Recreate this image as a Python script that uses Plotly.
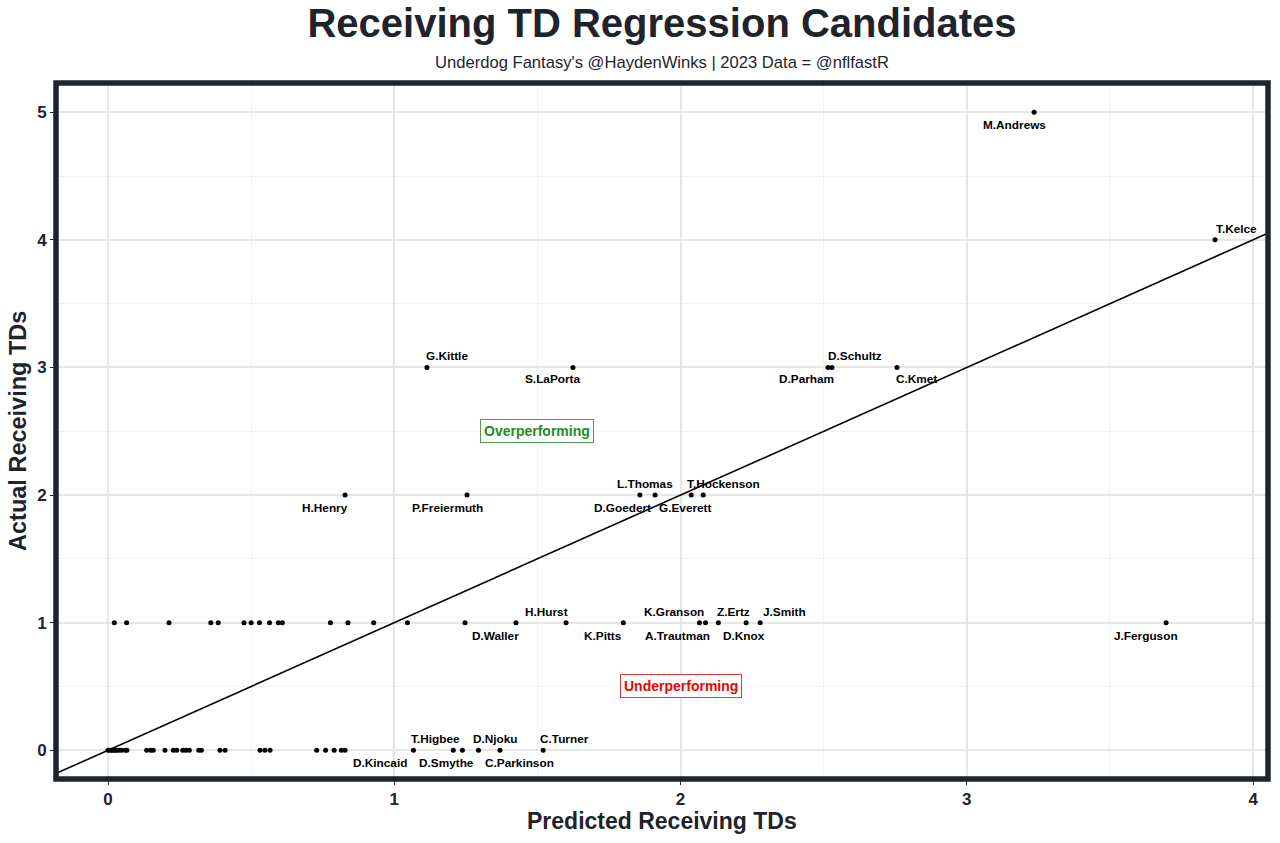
import plotly.graph_objects as go

# ---------------- data ----------------
labeled_names = [
    "M.Andrews", "T.Kelce", "G.Kittle", "S.LaPorta", "D.Schultz", "D.Parham", "C.Kmet",
    "H.Henry", "P.Freiermuth", "L.Thomas", "D.Goedert", "T.Hockenson", "G.Everett",
    "D.Waller", "H.Hurst", "K.Pitts", "K.Granson", "A.Trautman", "Z.Ertz", "D.Knox",
    "J.Smith", "J.Ferguson",
    "D.Kincaid", "T.Higbee", "D.Smythe", "D.Njoku", "C.Parkinson", "C.Turner",
]
labeled_pred = [
    3.235, 3.867, 1.114, 1.624, 2.529, 2.515, 2.756,
    0.828, 1.254, 1.858, 1.911, 2.079, 2.037,
    1.425, 1.600, 1.800, 2.066, 2.087, 2.132, 2.229,
    2.278, 3.696,
    0.828, 1.067, 1.206, 1.294, 1.369, 1.520,
]
labeled_actual = [
    5, 4, 3, 3, 3, 3, 3,
    2, 2, 2, 2, 2, 2,
    1, 1, 1, 1, 1, 1, 1,
    1, 1,
    0, 0, 0, 0, 0, 0,
]

other_pred_1 = [0.022, 0.065, 0.213, 0.359, 0.385, 0.475, 0.500, 0.529, 0.564,
                0.595, 0.609, 0.777, 0.838, 0.928, 1.046, 1.247]
other_pred_0 = [0.000, 0.006, 0.012, 0.018, 0.024, 0.030, 0.038, 0.047, 0.060, 0.066,
                0.135, 0.149, 0.158, 0.199, 0.228, 0.240, 0.261, 0.272, 0.284,
                0.317, 0.326, 0.391, 0.409, 0.531, 0.548, 0.566,
                0.729, 0.760, 0.790, 0.815, 1.238]

# label offsets in pixels (dx, dy), dy positive = up
label_offsets = {
    "M.Andrews": (-20, -13), "T.Kelce": (21, 11), "G.Kittle": (20, 11),
    "S.LaPorta": (-20, -12), "D.Schultz": (23, 11), "D.Parham": (-22, -12),
    "C.Kmet": (20, -12), "H.Henry": (-20, -13), "P.Freiermuth": (-20, -13),
    "L.Thomas": (5, 11), "D.Goedert": (-33, -13), "T.Hockenson": (20, 11),
    "G.Everett": (-6, -13), "D.Waller": (-20, -13), "H.Hurst": (-20, 11),
    "K.Pitts": (-20, -13), "K.Granson": (-25, 11), "A.Trautman": (-28, -13),
    "Z.Ertz": (15, 11), "D.Knox": (-2, -13), "J.Smith": (24, 11),
    "J.Ferguson": (-20, -13), "D.Kincaid": (35, -13), "T.Higbee": (22, 11),
    "D.Smythe": (-7, -13), "D.Njoku": (17, 11), "C.Parkinson": (20, -13),
    "C.Turner": (21, 11),
}

fit_x = [-0.25, 4.2]
fit_slope = 1.0
fit_intercept = 0.0

x_ticks = [0, 1, 2, 3, 4]
y_ticks = [0, 1, 2, 3, 4, 5]

DARK = "#1f232c"
FONT = "Liberation Sans, Arial, Helvetica, sans-serif"

fig = go.Figure()

fig.add_trace(go.Scatter(
    x=fit_x, y=[fit_intercept + fit_slope * v for v in fit_x],
    mode="lines", line=dict(color="black", width=1.6),
    hoverinfo="skip", showlegend=False,
))

all_x = labeled_pred + other_pred_1 + other_pred_0
all_y = labeled_actual + [1] * len(other_pred_1) + [0] * len(other_pred_0)
fig.add_trace(go.Scatter(
    x=all_x, y=all_y, mode="markers",
    marker=dict(color="black", size=5), showlegend=False,
))

for name, px, py in zip(labeled_names, labeled_pred, labeled_actual):
    dx, dy = label_offsets[name]
    fig.add_annotation(
        x=px, y=py, text=f"<b>{name}</b>", showarrow=False,
        xshift=dx, yshift=dy,
        font=dict(family=FONT, size=11.8, color="black"),
    )

fig.add_annotation(
    x=1.5, y=2.5, text="<b>Overperforming</b>", showarrow=False,
    font=dict(family=FONT, size=14, color="#1e8c1e"),
    bgcolor="white", bordercolor="#4aa34a", borderwidth=1, borderpad=3,
)
fig.add_annotation(
    x=2.0, y=0.5, text="<b>Underperforming</b>", showarrow=False,
    font=dict(family=FONT, size=14, color="#ee0000"),
    bgcolor="white", bordercolor="#ee3333", borderwidth=1, borderpad=3,
)

# subtitle and axis titles
fig.add_annotation(
    xref="paper", yref="paper", x=0.5, y=1.0294, yanchor="middle",
    text="Underdog Fantasy's @HaydenWinks | 2023 Data = @nflfastR", showarrow=False,
    font=dict(family=FONT, size=16.6, color=DARK),
)
fig.add_annotation(
    xref="paper", yref="paper", x=0.5, y=-0.061, yanchor="middle",
    text="<b>Predicted Receiving TDs</b>", showarrow=False,
    font=dict(family=FONT, size=23, color=DARK),
)
fig.add_annotation(
    xref="paper", yref="paper", x=-0.0314, y=0.5, xanchor="center", yanchor="middle",
    text="<b>Actual Receiving TDs</b>", showarrow=False, textangle=-90,
    font=dict(family=FONT, size=23.5, color=DARK),
)

# border
fig.add_shape(type="rect", xref="paper", yref="paper", x0=0, y0=0, x1=1, y1=1,
              line=dict(color=DARK, width=5.5), layer="above")

fig.update_layout(
    width=1280, height=843,
    margin=dict(l=56, r=12, t=82.5, b=63.5),
    paper_bgcolor="white", plot_bgcolor="white",
    title=dict(text="<b>Receiving TD Regression Candidates</b>", x=0.5, xanchor="center",
               xref="paper", yref="container", y=1 - 23 / 843, yanchor="middle",
               font=dict(family=FONT, size=40, color=DARK)),
    font=dict(family=FONT, color=DARK),
)

fig.update_xaxes(
    range=[-0.1817, 4.052], tickvals=x_ticks, ticktext=[f"<b>{v}</b>" for v in x_ticks],
    showgrid=True, gridcolor="#e6e6e6", gridwidth=1.6,
    minor=dict(dtick=0.5, tick0=0, showgrid=True, gridcolor="#f2f2f2", gridwidth=0.9),
    zeroline=False, showline=False,
    ticks="outside", ticklen=5, tickcolor=DARK, tickwidth=1.3,
    tickfont=dict(family=FONT, size=17, color=DARK),
)
fig.update_yaxes(
    range=[-0.225, 5.229], tickvals=y_ticks, ticktext=[f"<b>{v}</b>" for v in y_ticks],
    showgrid=True, gridcolor="#e6e6e6", gridwidth=1.6,
    minor=dict(dtick=0.5, tick0=0, showgrid=True, gridcolor="#f2f2f2", gridwidth=0.9),
    zeroline=False, showline=False,
    ticks="outside", ticklen=5, tickcolor=DARK, tickwidth=1.3,
    tickfont=dict(family=FONT, size=17, color=DARK),
)

fig.write_html("out.html", config={"displayModeBar": False},
               post_script="document.body.style.margin='0px';document.body.style.overflow='hidden';")
